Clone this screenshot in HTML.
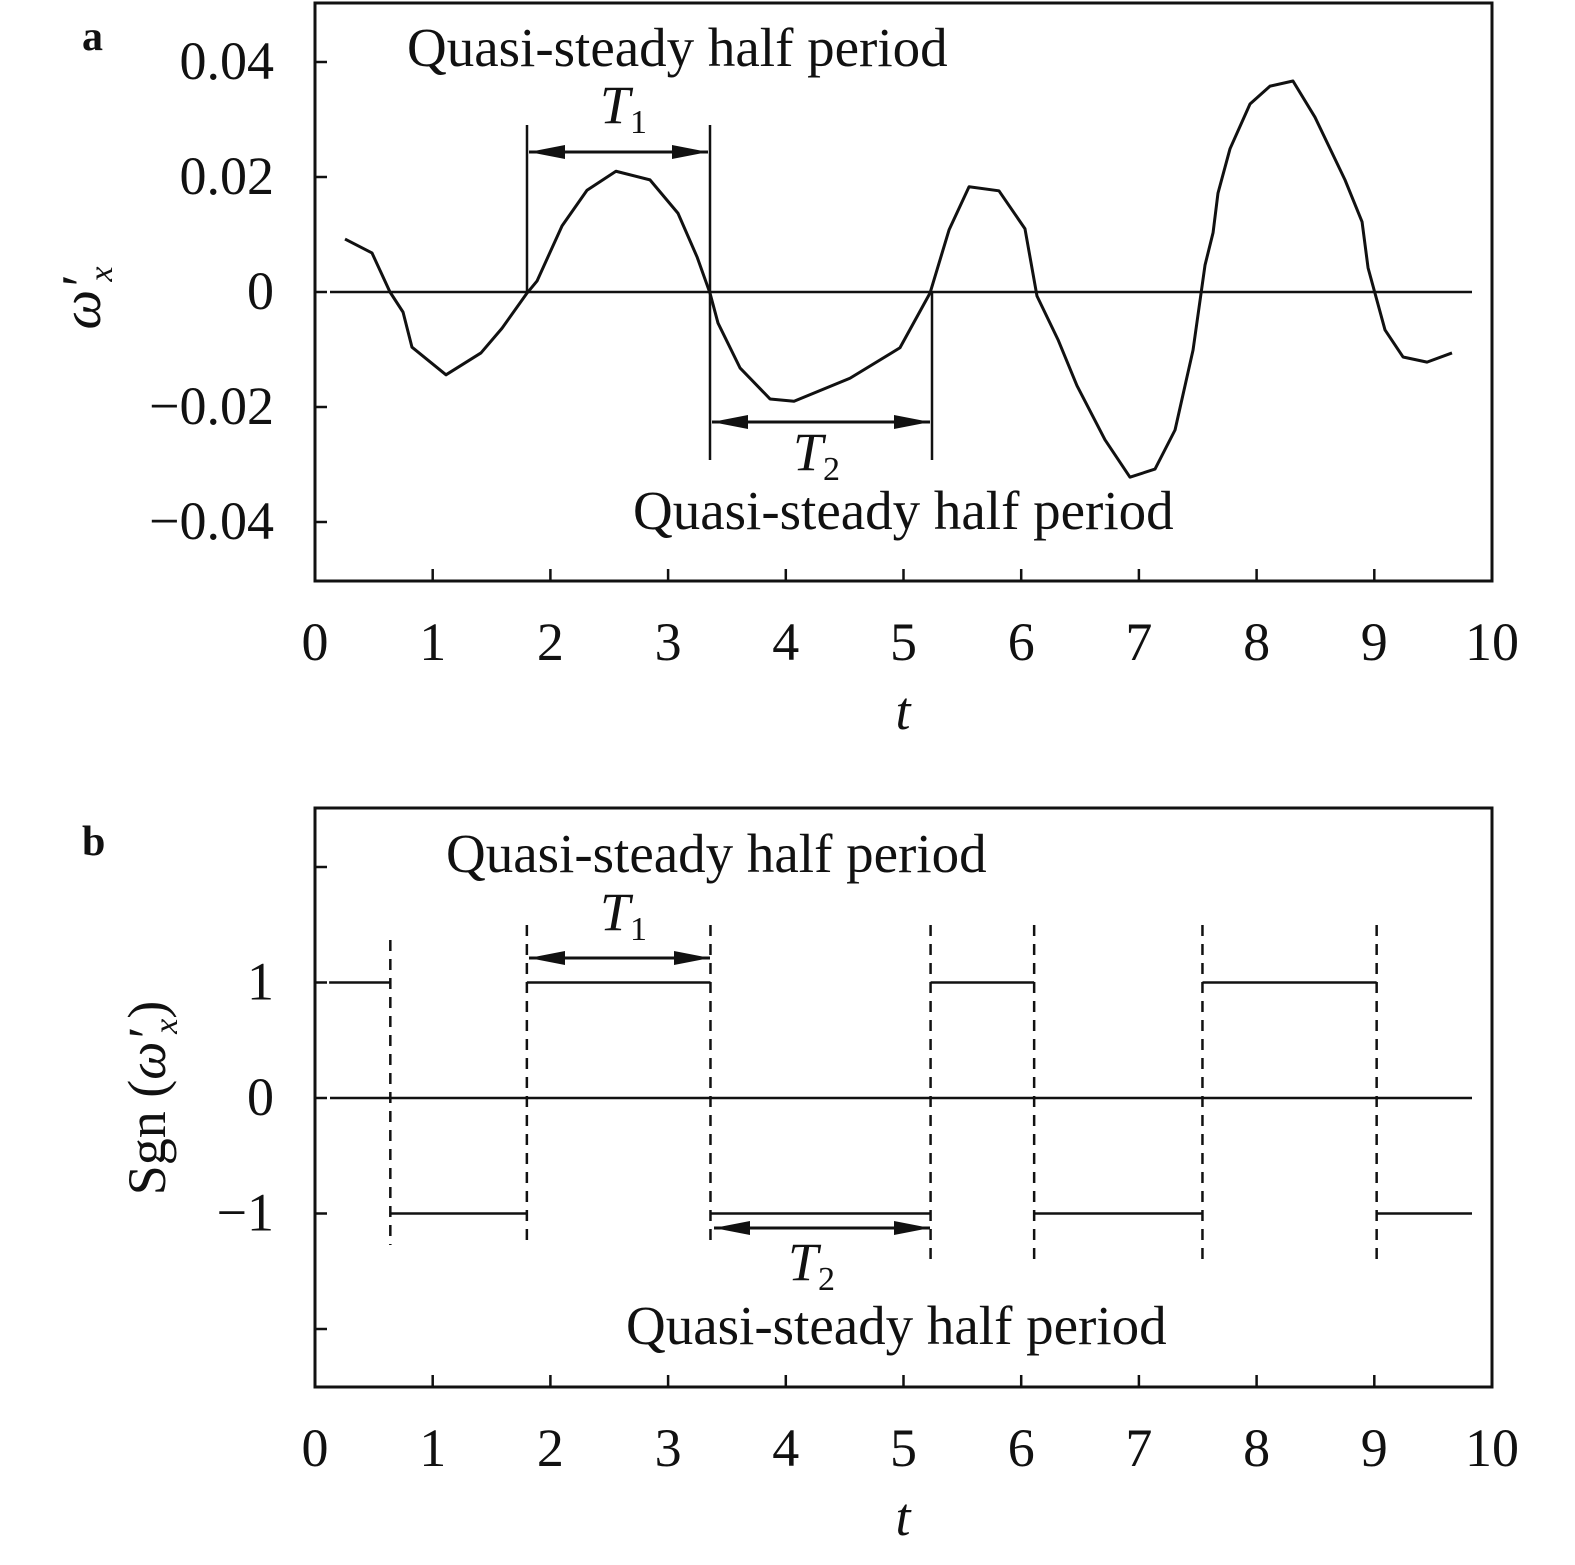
<!DOCTYPE html>
<html><head><meta charset="utf-8"><style>
html,body{margin:0;padding:0;background:#fff}
svg{display:block}
text{font-family:"Liberation Serif",serif;fill:#111}
</style></head><body>
<svg id="c" width="1575" height="1565" viewBox="0 0 1575 1565">
</svg>
<script>
const tA=[0.255,0.484,0.637,0.748,0.824,1.113,1.410,1.589,1.801,1.886,2.099,2.311,2.557,2.846,3.084,3.246,3.356,3.424,3.611,3.866,4.070,4.545,4.970,5.225,5.387,5.557,5.811,6.032,6.134,6.313,6.474,6.712,6.924,7.137,7.307,7.460,7.562,7.630,7.672,7.774,7.944,8.114,8.309,8.496,8.751,8.896,8.947,9.091,9.244,9.448,9.660];
const wA=[0.0092,0.0068,0,-0.0035,-0.0096,-0.0144,-0.0106,-0.0063,-0.0002,0.0019,0.0115,0.0177,0.0210,0.0195,0.0137,0.0061,-0.0002,-0.0054,-0.0132,-0.0186,-0.0190,-0.0150,-0.0097,-0.0002,0.0108,0.0183,0.0176,0.0110,-0.0007,-0.0083,-0.0163,-0.0257,-0.0322,-0.0308,-0.0240,-0.0101,0.0047,0.0103,0.0172,0.0249,0.0327,0.0358,0.0367,0.0304,0.0195,0.0122,0.0042,-0.0066,-0.0113,-0.0122,-0.0106];
const segStart=[0.12,0.64,1.80,3.36,5.23,6.11,7.54,9.02];
const segEnd=[0.64,1.80,3.36,5.23,6.11,7.54,9.02,9.83];
const segLevel=[1,-1,1,-1,1,-1,1,-1];
const xTicks=[0,1,2,3,4,5,6,7,8,9,10];
const yTicksA=[0.04,0.02,0,-0.02,-0.04];
const yLabelsA=["0.04","0.02","0","\u22120.02","\u22120.04"];
const yTicksB=[2,1,0,-1,-2];
const yLabelsB=["","1","0","\u22121",""];

const svg=document.getElementById('c');
const NS='http://www.w3.org/2000/svg';
function el(tag,attrs,parent){const e=document.createElementNS(NS,tag);for(const k in attrs)e.setAttribute(k,attrs[k]);(parent||svg).appendChild(e);return e;}
const X=t=>315+t*117.7;
const YA=v=>292-v*5750;
const YB=v=>1098-v*115.5;
const FS=54;

function panel(top,bot,yt,yl,Y,name){
  const g=el('g',{});
  
  
  const r=el('rect',{x:315,y:top,width:1177,height:bot-top,fill:'none',stroke:'#111','stroke-width':3},g);
  
  
  xTicks.forEach(t=>{
    const l=el('line',{x1:X(t),x2:X(t),y1:bot,y2:bot-12,stroke:'#111','stroke-width':2.5},g);
    
    
    const tx=el('text',{x:X(t),y:bot+79,'text-anchor':'middle','font-size':FS},g);tx.textContent=t;
    
    
  });
  yt.forEach((v,i)=>{
    const l=el('line',{x1:315,x2:327,y1:Y(v),y2:Y(v),stroke:'#111','stroke-width':2.5},g);
    
    
    if(yl[i]){const tx=el('text',{x:274,y:Y(v)+17,'text-anchor':'end','font-size':FS},g);tx.textContent=yl[i];
    
    }
  });
  const z=el('line',{x1:330,x2:1472,y1:Y(0),y2:Y(0),stroke:'#111','stroke-width':2.5},g);
  
  
  const xt=el('text',{x:903,y:bot+148,'text-anchor':'middle','font-size':FS,'font-style':'italic'},g);xt.textContent='t';
  
  
  return g;
}
const gA=panel(3,581,yTicksA,yLabelsA,YA,'panel-a');
const gB=panel(808,1387,yTicksB,yLabelsB,YB,'panel-b');

let t=el('text',{x:82,y:50,'font-size':42,'font-weight':'bold'});t.textContent='a';


t=el('text',{x:82,y:855,'font-size':42,'font-weight':'bold'});t.textContent='b';



t=el('text',{transform:'translate(100,298) rotate(-90)','text-anchor':'middle','font-size':56,'font-style':'italic'});
t.innerHTML='ω\u2032<tspan font-size="34" dy="12" dx="-4">x</tspan>';


t=el('text',{transform:'translate(165,1098) rotate(-90)','text-anchor':'middle','font-size':54});
t.innerHTML='Sgn (<tspan font-style="italic">ω\u2032</tspan><tspan font-size="34" dy="12" dx="-4" font-style="italic">x</tspan><tspan dy="-12">)</tspan>';



const p=el('polyline',{points:tA.map((v,i)=>X(v)+','+YA(wA[i])).join(' '),fill:'none',stroke:'#111','stroke-width':3,'stroke-linejoin':'round'},gA);



segStart.forEach((s,i)=>{
  const l=el('line',{x1:X(s),x2:X(segEnd[i]),y1:YB(segLevel[i]),y2:YB(segLevel[i]),stroke:'#111','stroke-width':2.5},gB);
  
  
  if(i>0){
    const y1=i===1?940:925, y2=(i===4||i===5||i===6||i===7)?1265:1245;
    const d=el('line',{x1:X(s),x2:X(s),y1:y1,y2:y2,stroke:'#111','stroke-width':2.5,'stroke-dasharray':'11,8'},gB);
    
    
  }
});

function ln(x1,y1,x2,y2,name,arrow){const l=el('line',{x1,y1,x2,y2,stroke:'#111','stroke-width':arrow?3:2.5});
  
  
  if(arrow){
    const a1=el('polygon',{points:`${x1},${y1} ${x1+36},${y1-7} ${x1+36},${y1+7}`,fill:'#111'});
    
    
    const a2=el('polygon',{points:`${x2},${y2} ${x2-36},${y2-7} ${x2-36},${y2+7}`,fill:'#111'});
    
    
  }}
function txt(x,y,s,name,size){const e=el('text',{x,y,'font-size':size||FS});e.innerHTML=s;
  
  }
ln(527,125,527,292,'t1-left-bound');ln(710,125,710,460,'t1-right-bound');ln(932,292,932,460,'t2-right-bound');
ln(529,152,708,152,'t1-arrow',true);ln(712,422,930,422,'t2-arrow',true);
txt(407,66,'Quasi-steady half period','annotation-top-a',55);
txt(633,529,'Quasi-steady half period','annotation-bottom-a',55);
txt(600,123,'<tspan font-style="italic">T</tspan><tspan font-size="34" dy="10">1</tspan>','t1-label-a');
txt(793,470,'<tspan font-style="italic">T</tspan><tspan font-size="34" dy="10">2</tspan>','t2-label-a');
ln(529,958,710,958,'t1-arrow-b',true);ln(714,1228,930,1228,'t2-arrow-b',true);
txt(446,872,'Quasi-steady half period','annotation-top-b',55);
txt(626,1344,'Quasi-steady half period','annotation-bottom-b',55);
txt(600,930,'<tspan font-style="italic">T</tspan><tspan font-size="34" dy="10">1</tspan>','t1-label-b');
txt(788,1280,'<tspan font-style="italic">T</tspan><tspan font-size="34" dy="10">2</tspan>','t2-label-b');
</script>
</body></html>
